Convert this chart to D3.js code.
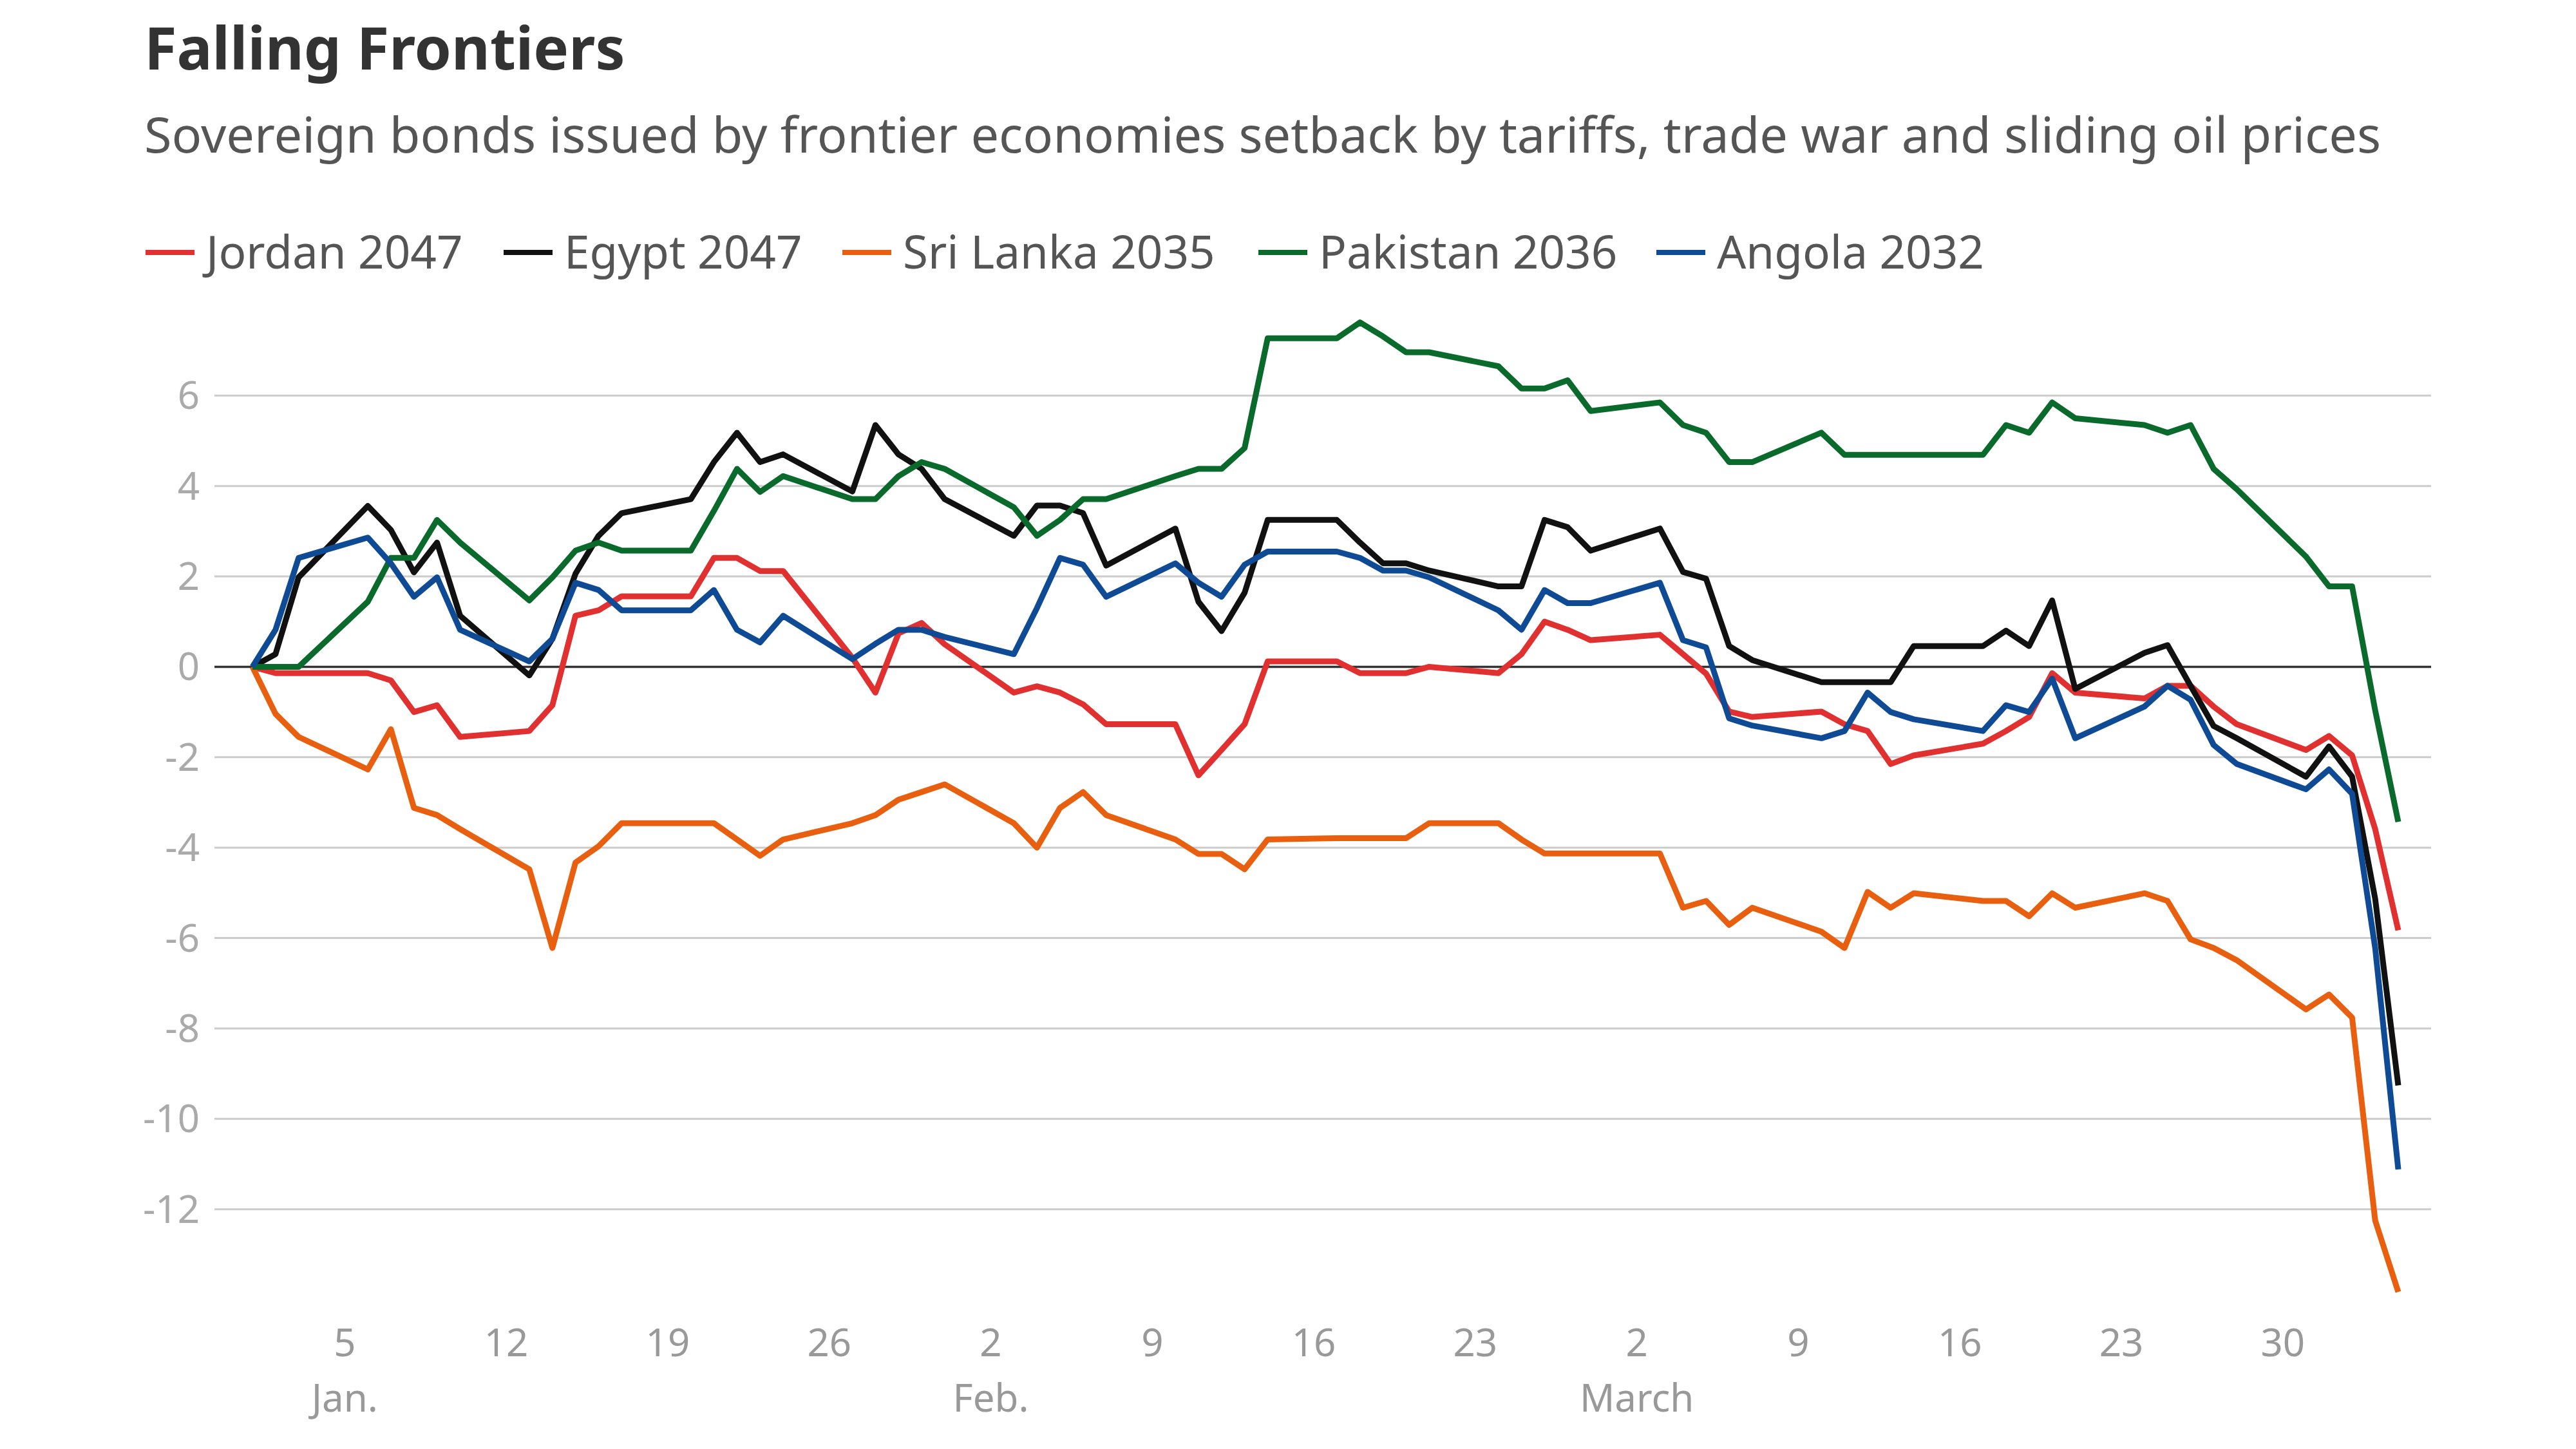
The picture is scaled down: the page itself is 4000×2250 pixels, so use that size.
<!DOCTYPE html>
<html lang="en">
<head>
<meta charset="UTF-8">
<title>Falling Frontiers</title>
<script src="https://cdn.jsdelivr.net/npm/d3@7"></script>
<style>
  body { margin: 0; background: #fff; }
  text { font-family: "Noto Sans", Lato, sans-serif; }
</style>
</head>
<body>
<svg></svg>
<script>
var dates = [
  "2025-01-01","2025-01-02","2025-01-03","2025-01-06","2025-01-07","2025-01-08","2025-01-09","2025-01-10",
  "2025-01-13","2025-01-14","2025-01-15","2025-01-16","2025-01-17","2025-01-20","2025-01-21","2025-01-22",
  "2025-01-23","2025-01-24","2025-01-27","2025-01-28","2025-01-29","2025-01-30","2025-01-31",
  "2025-02-03","2025-02-04","2025-02-05","2025-02-06","2025-02-07","2025-02-10","2025-02-11","2025-02-12",
  "2025-02-13","2025-02-14","2025-02-17","2025-02-18","2025-02-19","2025-02-20","2025-02-21","2025-02-24",
  "2025-02-25","2025-02-26","2025-02-27","2025-02-28",
  "2025-03-03","2025-03-04","2025-03-05","2025-03-06","2025-03-07","2025-03-10","2025-03-11","2025-03-12",
  "2025-03-13","2025-03-14","2025-03-17","2025-03-18","2025-03-19","2025-03-20","2025-03-21","2025-03-24",
  "2025-03-25","2025-03-26","2025-03-27","2025-03-28","2025-03-31",
  "2025-04-01","2025-04-02","2025-04-03","2025-04-04"
];

var jordan = [0,-0.14,-0.14,-0.14,-0.3,-1.0,-0.85,-1.55,-1.42,-0.85,1.13,1.25,1.56,1.56,2.41,2.41,2.12,2.12,0.2,-0.57,0.74,0.97,0.5,
  -0.57,-0.43,-0.57,-0.83,-1.27,-1.27,-2.4,-1.84,-1.27,0.12,0.12,-0.14,-0.14,-0.14,0,-0.14,0.28,1.0,0.82,0.59,
  0.71,0.28,-0.15,-0.99,-1.11,-0.99,-1.27,-1.42,-2.15,-1.96,-1.7,-1.42,-1.11,-0.14,-0.57,-0.7,-0.42,-0.42,-0.88,-1.27,-1.84,
  -1.53,-1.96,-3.59,-5.83];
var egypt = [0,0.28,1.98,3.56,3.03,2.09,2.75,1.13,-0.19,0.62,2.06,2.9,3.4,3.71,4.53,5.18,4.53,4.7,3.88,5.35,4.7,4.38,3.71,
  2.9,3.57,3.57,3.4,2.24,3.06,1.44,0.79,1.64,3.25,3.25,2.75,2.29,2.29,2.13,1.78,1.78,3.25,3.09,2.57,
  3.06,2.1,1.95,0.46,0.15,-0.34,-0.34,-0.34,-0.34,0.46,0.46,0.8,0.46,1.47,-0.49,0.31,0.48,-0.42,-1.31,-1.58,-2.43,
  -1.76,-2.43,-5.13,-9.26];
var sriLanka = [0,-1.04,-1.55,-2.27,-1.38,-3.12,-3.28,-3.59,-4.48,-6.22,-4.33,-3.97,-3.46,-3.46,-3.46,-3.82,-4.18,-3.82,-3.46,-3.28,-2.94,-2.77,-2.6,
  -3.46,-4.0,-3.12,-2.77,-3.28,-3.82,-4.14,-4.14,-4.48,-3.82,-3.79,-3.79,-3.79,-3.79,-3.46,-3.46,-3.82,-4.13,-4.13,-4.13,
  -4.13,-5.33,-5.18,-5.71,-5.33,-5.86,-6.22,-4.98,-5.33,-5.01,-5.18,-5.18,-5.52,-5.01,-5.33,-5.01,-5.18,-6.03,-6.22,-6.49,-7.58,
  -7.25,-7.76,-12.25,-13.83];
var pakistan = [0,0,0,1.44,2.41,2.41,3.25,2.75,1.47,1.98,2.57,2.75,2.57,2.57,3.45,4.38,3.87,4.22,3.71,3.71,4.22,4.53,4.38,
  3.53,2.9,3.25,3.71,3.71,4.22,4.38,4.38,4.84,7.27,7.27,7.62,7.31,6.96,6.96,6.65,6.16,6.16,6.34,5.66,
  5.85,5.35,5.18,4.53,4.53,5.18,4.69,4.69,4.69,4.69,4.69,5.35,5.18,5.85,5.5,5.35,5.18,5.35,4.38,3.93,2.44,
  1.78,1.78,-0.96,-3.43];
var angola = [0,0.82,2.41,2.86,2.29,1.55,1.98,0.82,0.12,0.62,1.86,1.7,1.25,1.25,1.7,0.82,0.54,1.13,0.17,0.51,0.82,0.82,0.66,
  0.28,1.3,2.41,2.26,1.55,2.29,1.86,1.55,2.26,2.55,2.55,2.41,2.13,2.13,1.98,1.25,0.82,1.7,1.41,1.41,
  1.86,0.59,0.43,-1.14,-1.3,-1.58,-1.42,-0.57,-1.0,-1.16,-1.42,-0.85,-1.0,-0.26,-1.58,-0.88,-0.42,-0.73,-1.73,-2.15,-2.71,
  -2.27,-2.81,-6.22,-11.12];

var seriesNames = ["Jordan 2047", "Egypt 2047", "Sri Lanka 2035", "Pakistan 2036", "Angola 2032"];
var seriesValues = [jordan, egypt, sriLanka, pakistan, angola];
var seriesColors = ["#e0302f", "#111111", "#e8600f", "#0a6a2c", "#0f4a94"];
var yTicks = [6, 4, 2, 0, -2, -4, -6, -8, -10, -12];
var monthLabels = { "2025-01-05": "Jan.", "2025-02-02": "Feb.", "2025-03-02": "March" };

var w = 4000, h = 2250;
var svg = d3.select("svg").attr("width", w).attr("height", h);
var parse = d3.timeParse("%Y-%m-%d");
var fmt = d3.timeFormat("%Y-%m-%d");
var parsed = dates.map(parse);

var x = d3.scaleTime().domain([parse("2025-01-01"), parse("2025-04-04")]).range([392, 3724]);
var y = d3.scaleLinear().domain([-14, 8]).range([2018, 474]);
var gridLeft = 333, gridRight = 3775;

// title, subtitle
svg.append("text").attr("x", 224).attr("y", 108).attr("font-size", 92).attr("font-weight", 700)
  .attr("fill", "#333").text("Falling Frontiers");
svg.append("text").attr("x", 224).attr("y", 237).attr("font-size", 77.5).attr("fill", "#555")
  .text("Sovereign bonds issued by frontier economies setback by tariffs, trade war and sliding oil prices");

// legend
var legendX = [226, 782, 1308, 1954, 2572];
var leg = svg.selectAll(".leg").data(seriesNames).enter().append("g")
  .attr("transform", (d, i) => "translate(" + legendX[i] + ",392)");
leg.append("line").attr("x1", 0).attr("x2", 76).attr("stroke", (d, i) => seriesColors[i]).attr("stroke-width", 8);
leg.append("text").attr("x", 94).attr("dy", "0.35em").attr("font-size", 71).attr("fill", "#555").text(d => d);

// grid
svg.selectAll(".grid").data(yTicks).enter().append("line")
  .attr("x1", gridLeft).attr("x2", gridRight).attr("y1", d => y(d)).attr("y2", d => y(d))
  .attr("stroke", d => d === 0 ? "#333" : "#cccccc").attr("stroke-width", d => d === 0 ? 3.5 : 3);
svg.selectAll(".ylab").data(yTicks).enter().append("text")
  .attr("x", 310).attr("y", d => y(d)).attr("dy", "0.35em").attr("text-anchor", "end")
  .attr("font-size", 60).attr("fill", "#aaaaaa").text(d => d);

// x axis labels
var xTicks = d3.timeWeek.range(parse("2025-01-05"), parse("2025-04-01"));
svg.selectAll(".xlab").data(xTicks).enter().append("text")
  .attr("x", d => x(d)).attr("y", 2106).attr("text-anchor", "middle")
  .attr("font-size", 60).attr("fill", "#999").text(d => d.getDate());
svg.selectAll(".mlab").data(xTicks.filter(d => monthLabels[fmt(d)])).enter().append("text")
  .attr("x", d => x(d)).attr("y", 2192).attr("text-anchor", "middle")
  .attr("font-size", 60).attr("fill", "#999").text(d => monthLabels[fmt(d)]);

// lines
var line = d3.line().x((d, i) => x(parsed[i])).y(d => y(d));
svg.selectAll(".series").data(seriesValues).enter().append("path")
  .attr("d", line).attr("fill", "none")
  .attr("stroke", (d, i) => seriesColors[i]).attr("stroke-width", 9)
  .attr("stroke-linejoin", "round");
</script>
</body>
</html>
